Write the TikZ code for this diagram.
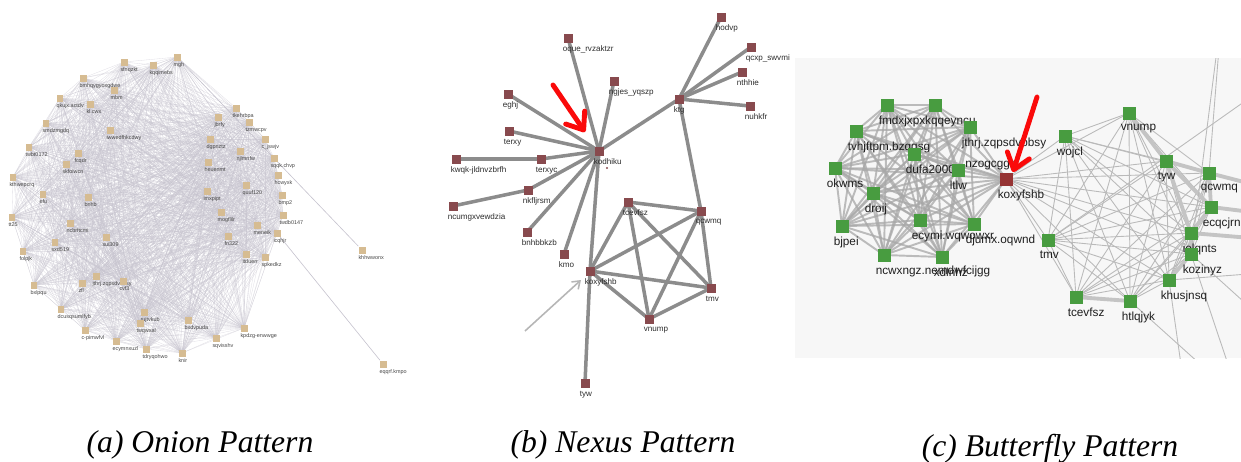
\documentclass[tikz,border=0pt]{standalone}
\usepackage{fontspec}
\setmainfont{Liberation Serif}
\newfontfamily\arial{Liberation Sans}
\usetikzlibrary{arrows.meta}
\pgfdeclarelayer{bg}
\pgfdeclarelayer{edges}
\pgfsetlayers{bg,edges,main}

\definecolor{onionfill}{RGB}{214,188,146}
\definecolor{oniontext}{RGB}{70,70,70}
\definecolor{meshcol}{RGB}{198,195,206}
\definecolor{nexfill}{RGB}{136,74,78}
\definecolor{nexedge}{RGB}{140,140,140}
\definecolor{nextext}{RGB}{45,45,45}
\definecolor{bfgreen}{RGB}{72,156,64}
\definecolor{bfred}{RGB}{150,52,52}
\definecolor{bfpanel}{RGB}{247,247,247}
\definecolor{bfthick}{RGB}{168,168,168}
\definecolor{bfthin}{RGB}{186,186,186}
\definecolor{bfband}{RGB}{196,196,196}
\definecolor{hintgrey}{RGB}{182,182,182}
\definecolor{markred}{RGB}{250,10,10}

\tikzset{
  osq/.style={fill=onionfill, minimum size=0.14cm, inner sep=0pt},
  olab/.style={inner sep=0pt, anchor=north west, text=oniontext,
    font=\arial\fontsize{3.1}{3.1}\selectfont},
  omesh/.style={draw=meshcol, line width=0.18pt, opacity=0.55},
  osparse/.style={draw=meshcol, line width=0.35pt},
  nsq/.style={fill=nexfill, minimum size=0.18cm, inner sep=0pt},
  nlab/.style={inner sep=0pt, anchor=north west, text=nextext,
    font=\arial\fontsize{4.6}{4.6}\selectfont},
  nedge/.style={draw=nexedge, line width=2pt},
  bsq/.style={fill=bfgreen, minimum size=0.26cm, inner sep=0pt},
  bsqred/.style={fill=bfred, minimum size=0.26cm, inner sep=0pt},
  blab/.style={inner sep=0pt, anchor=north west, text=black!88,
    font=\arial\fontsize{6.7}{6.7}\selectfont},
  bthick/.style={draw=bfthick, line width=1.1pt, opacity=0.75},
  bthin/.style={draw=bfthin, line width=0.5pt},
  bband/.style={draw=bfband, line width=2.2pt},
  markarrow/.style={draw=markred, line width=2.8pt, line cap=round,
    -{Straight Barb[length=0.3cm, width=0.46cm, round]}},
  hintarrow/.style={draw=hintgrey, line width=0.9pt,
    -{Straight Barb[length=0.14cm, width=0.2cm]}},
  captext/.style={inner sep=0pt, anchor=base,
    font=\itshape\fontsize{18}{18}\selectfont}
}

% node with its label set just below its lower left corner
\newcommand\onode[3]{\node[osq] (#1) at (#2) {};
  \node[olab] (#1-t) at ([yshift=-0.8pt]#1.south west) {#3};}
\newcommand\nnode[3]{\node[nsq] (#1) at (#2) {};
  \node[nlab] (#1-t) at ([yshift=-1.6pt, xshift=-0.4pt]#1.south west) {#3};}
\newcommand\bnode[3]{\node[bsq] (#1) at (#2) {};
  \node[blab] (#1-t) at ([yshift=-2.2pt, xshift=-1pt]#1.south west) {#3};}

\begin{document}
\begin{tikzpicture}[x=0.02cm, y=-0.02cm]
\useasboundingbox (0,0) rectangle (1241,461);

% ---------------- (a) onion ----------------
\onode{o1}{177,57}{mgh}
\onode{o2}{153,65}{kqqimebs}
\onode{o3}{124,62}{sfnqzkt}
\onode{o4}{83,78}{bmhqygyoxgdwe}
\onode{o5}{114,90}{mbm}
\onode{o6}{60,98}{qkujx.actdv}
\onode{o7}{90,104}{kl.cwx}
\onode{o8}{46,123}{smdzmgdq}
\onode{o9}{110,130}{iwwedfhkcdwy}
\onode{o10}{29,147}{twbt0172}
\onode{o11}{78,153}{fcqdr}
\onode{o12}{66,164}{skfoiwcn}
\onode{o13}{13,177}{kthwepcrq}
\onode{o14}{43,194}{efu}
\onode{o15}{88,197}{bnhb}
\onode{o16}{12,217}{tt25}
\onode{o17}{70,223}{ncbrftcmi}
\onode{o18}{55,242}{sxd519}
\onode{o19}{106,237}{sui309}
\onode{o20}{23,251}{folpjk}
\onode{o21}{34,285}{bxlpqu}
\onode{o22}{82,283}{zfl}
\onode{o23}{96,276}{jthrj.zqpsdvbbsy}
\onode{o24}{123,281}{cvf3}
\onode{o25}{61,309}{dcusqsumlfyb}
\onode{o26}{85,330}{c-pimwfvl}
\onode{o27}{116,341}{ecymnxuzl}
\onode{o28}{144,312}{rujtvkub}
\onode{o29}{140,323}{twqwxal}
\onode{o30}{146,349}{tdryqohwo}
\onode{o31}{182,353}{knir}
\onode{o32}{188,320}{bxdvpuda}
\onode{o33}{216,338}{sqvisshv}
\onode{o34}{244,328}{kpdzg-enwwge}
\onode{o35}{246,254}{itduerr}
\onode{o36}{265,257}{spkedkz}
\onode{o37}{277,233}{icqhjr}
\onode{o38}{257,225}{meneik}
\onode{o39}{228,236}{fn322}
\onode{o40}{221,212}{mogflilr}
\onode{o41}{283,215}{twdb0147}
\onode{o42}{282,195}{bmp2}
\onode{o43}{207,191}{imxpipt}
\onode{o44}{246,185}{quuf120}
\onode{o45}{278,175}{hcwyxk}
\onode{o46}{208,162}{heuenmt}
\onode{o47}{274,158}{sqqk.chvp}
\onode{o48}{240,151}{njlmnfw}
\onode{o49}{210,139}{dgpnztz}
\onode{o50}{265,139}{c\_jswjv}
\onode{o51}{249,122}{tzmwcpv}
\onode{o52}{218,117}{jbrfy}
\onode{o53}{236,108}{tkehrbpa}
\onode{o54}{362,250}{khhwwonx}
\onode{o55}{383,364}{eqqrf.kmpo}

\begin{pgfonlayer}{edges}
  \foreach \i in {1,...,52}{
    \pgfmathtruncatemacro\jfirst{\i+1}
    \foreach \j in {\jfirst,...,53}{
      \draw[omesh] (o\i.center) -- (o\j.center);
    }
  }
  \draw[osparse] (o54) -- (o1);
  \draw[osparse] (o55) -- (o37);
\end{pgfonlayer}

% ---------------- (b) nexus ----------------
\nnode{nkod}{599,151}{kodhiku}
\nnode{noque}{568,38}{oque\_rvzaktzr}
\nnode{nngj}{614,81}{ngjes\_yqszp}
\nnode{neghj}{508,94}{eghj}
\nnode{nterxy}{509,131}{terxy}
\nnode{nkwqk}{456,159}{kwqk-jldnvzbrfh}
\nnode{nterxyc}{541,159}{terxyc}
\nnode{nnkf}{528,190}{nkfljrsm}
\nnode{nncu}{453,206}{ncumgxvewdzia}
\nnode{nbnh}{527,232}{bnhbbkzb}
\nnode{nkmo}{564,254}{kmo}
\nnode{nkox}{590,271}{koxyfshb}
\nnode{ntce}{628,202}{tcevfsz}
\nnode{nqcw}{701,211}{qcwmq}
\nnode{ntmv}{711,288}{tmv}
\nnode{nvnu}{649,319}{vnump}
\nnode{ntyw}{585,383}{tyw}
\nnode{nktg}{679,99}{ktg}
\nnode{nhod}{721,17}{hodvp}
\nnode{nqcx}{751,47}{qcxp\_swvmi}
\nnode{nnth}{742,72}{nthhie}
\nnode{nnuh}{750,106}{nuhkfr}
\node[circle, fill=nexfill, inner sep=0pt, minimum size=0.045cm] (ndot) at (607,168) {};

\begin{pgfonlayer}{edges}
  \foreach \a/\b in {nkod/noque, nkod/nngj, nkod/neghj, nkod/nterxy,
      nkod/nterxyc, nterxyc/nkwqk, nkod/nnkf, nnkf/nncu, nkod/nbnh,
      nkod/nkmo, nkod/nkox, nkod/nktg, nktg/nhod, nktg/nqcx, nktg/nnth,
      nktg/nnuh, nktg/nqcw, nkox/ntce, nkox/nqcw, nkox/ntmv, nkox/nvnu,
      nkox/ntyw, ntce/nqcw, ntce/ntmv, ntce/nvnu, nqcw/ntmv, nqcw/nvnu,
      nvnu/ntmv}
    \draw[nedge] (\a.center) -- (\b.center);
\end{pgfonlayer}

\coordinate (ra0) at (553,85);
\coordinate (ra1) at (585,132);
\draw[markarrow] (ra0) -- (ra1);
\coordinate (ga0) at (525,331);
\coordinate (ga1) at (581,280);
\draw[hintarrow] (ga0) -- (ga1);

% ---------------- (c) butterfly ----------------
\begin{pgfonlayer}{bg}
  \fill[bfpanel] (795,58) rectangle (1241,358);
\end{pgfonlayer}

\begin{scope}
\clip (795,58) rectangle (1241,358);
\bnode{b1}{887,105}{fmdxjxpxkqqeyncu}
\node[bsq] (b2) at (935,105) {};
\bnode{b3}{856,131}{tvhjftpm.bzqqsg}
\bnode{b4}{970,127}{jthrj.zqpsdvbbsy}
\bnode{b5}{914,154}{dufa2000}
\node[blab] (bnz) at (965,160.5) {nzogcggq};
\bnode{b6}{835,168}{okwms}
\bnode{b7}{958,170}{ltlw}
\bnode{b8}{873,193}{droij}
\bnode{b9}{842,226}{bjpei}
\bnode{b10}{920,220}{ecymi.wqwowxr}
\bnode{b11}{974,224}{djumx.oqwnd}
\bnode{b12}{884,255}{ncwxngz.nemdwfcijgg}
\bnode{b13}{942,257}{xdlnhz}
\node[bsqred] (bk) at (1006,179) {};
\node[blab] (bk-t) at ([yshift=-2.2pt, xshift=-1pt]bk.south west) {koxyfshb};
\bnode{r1}{1065,136}{wojcl}
\bnode{r2}{1129,113}{vnump}
\bnode{r3}{1166,161}{tyw}
\bnode{r4}{1209,173}{qcwmq}
\bnode{r5}{1211,207}{ecqcjrn}
\bnode{r6}{1191,233}{iolqnts}
\bnode{r7}{1191,254}{kozinyz}
\bnode{r8}{1169,280}{khusjnsq}
\bnode{r9}{1048,240}{tmv}
\bnode{r10}{1076,297}{tcevfsz}
\bnode{r11}{1130,301}{htlqjyk}

% neighbours beyond the panel edge
\coordinate (x1) at (1222,10);
\coordinate (x2) at (1275,80);
\coordinate (x3) at (1275,190);
\coordinate (x4) at (1275,215);
\coordinate (x5) at (1275,240);
\coordinate (x6) at (1186,400);
\coordinate (x7) at (1240,400);
\coordinate (x8) at (1275,272);
\coordinate (x9) at (1275,330);
\end{scope}

\begin{pgfonlayer}{edges}
\begin{scope}
  \clip (795,58) rectangle (1241,358);
  \foreach \i in {1,...,12}{
    \pgfmathtruncatemacro\jfirst{\i+1}
    \foreach \j in {\jfirst,...,13}{
      \draw[bthick] (b\i.center) -- (b\j.center);
    }
    \draw[bthick] (bk.center) -- (b\i.center);
  }
  \draw[bthick] (bk.center) -- (b13.center);
  \foreach \i in {1,...,10}{
    \pgfmathtruncatemacro\jfirst{\i+1}
    \foreach \j in {\jfirst,...,11}{
      \draw[bthin] (r\i.center) -- (r\j.center);
    }
    \draw[bthin] (bk.center) -- (r\i.center);
  }
  \draw[bthin] (bk.center) -- (r11.center);
  \foreach \a/\b in {r2/r3, r3/r4, r3/r6, r4/r5, r5/r6, r6/r7, r7/r8,
      r3/r5, r10/r11}
    \draw[bband] (\a.center) -- (\b.center);
  \draw[bband] (r4.center) -- (x3);
  \draw[bband] (r5.center) -- (x4);
  \draw[bband] (r6.center) -- (x5);
  \foreach \a/\b in {r7/x1, r9/x2, r8/x6, r7/x7, r8/x8, r7/x9, r11/x7,
      r4/x1}
    \draw[bthin] (\a.center) -- (\b);
\end{scope}
\end{pgfonlayer}

\coordinate (rb0) at (1037,97);
\coordinate (rb1) at (1013,172);
\draw[markarrow] (rb0) -- (rb1);

% ---------------- captions ----------------
\node[captext] (capa) at (200,452) {(a) Onion Pattern};
\node[captext] (capb) at (623,452) {(b) Nexus Pattern};
\node[captext] (capc) at (1050,456) {(c) Butterfly Pattern};
\end{tikzpicture}
\end{document}
